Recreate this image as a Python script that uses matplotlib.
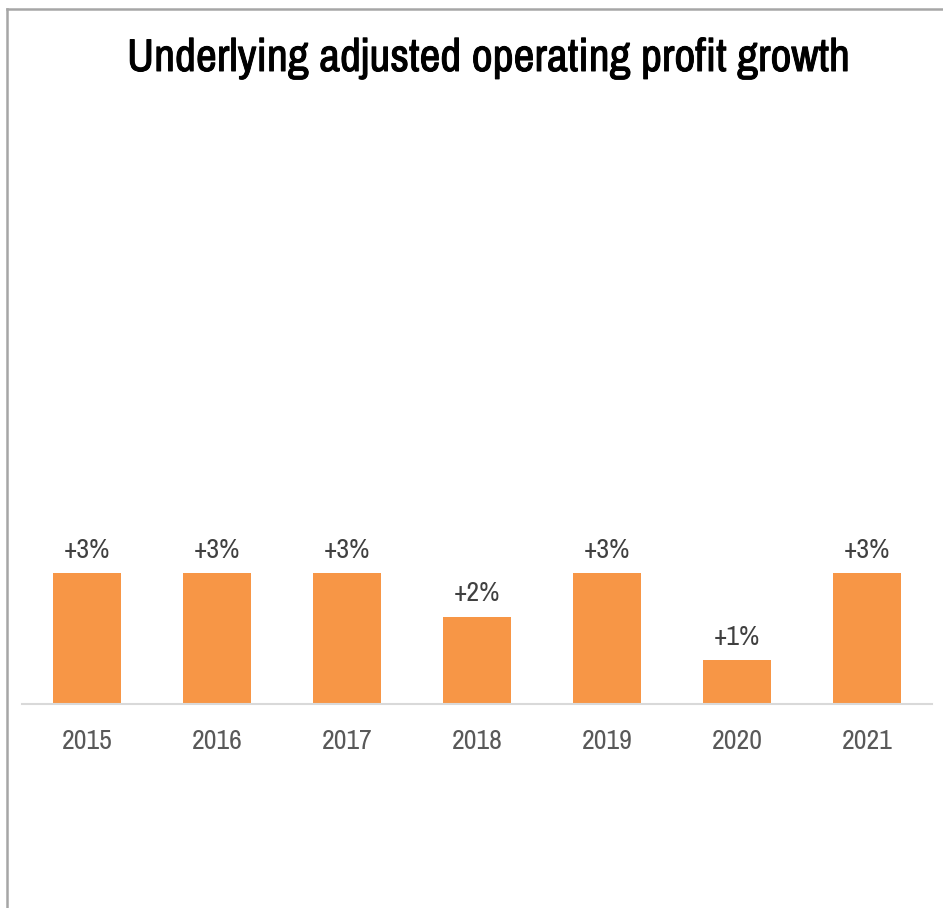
import matplotlib
matplotlib.use("Agg")
import matplotlib.pyplot as plt
import matplotlib.patheffects as pe
from matplotlib.lines import Line2D

years = ["2015", "2016", "2017", "2018", "2019", "2020", "2021"]
growth = [3, 3, 3, 2, 3, 1, 3]
labels = ["+3%", "+3%", "+3%", "+2%", "+3%", "+1%", "+3%"]
title = "Underlying adjusted operating profit growth"

fam = ["Archivo Narrow", "DejaVu Sans"]

fig = plt.figure(figsize=(9.43, 9.08), dpi=100)
ax = fig.add_axes([22 / 943, 1 - 704 / 908, 910 / 943, 594 / 908])

x = range(len(years))
ax.bar(x, growth, width=0.52, color="#F79646", zorder=2)
ax.set_xlim(-0.5, len(years) - 0.5)
ax.set_ylim(0, 13.6)

for xi, v, lab in zip(x, growth, labels):
    ax.annotate(lab, (xi, v), xytext=(0, 7.5), textcoords="offset points",
                ha="center", va="bottom", fontsize=20, color="#404040",
                family=fam)

ax.set_xticks(list(x))
ax.set_xticklabels(years, fontsize=20, color="#595959", family=fam)
ax.tick_params(axis="x", length=0, pad=18)
ax.set_yticks([])
for s in ("top", "right", "left"):
    ax.spines[s].set_visible(False)
ax.spines["bottom"].set_color("#D9D9D9")
ax.spines["bottom"].set_linewidth(1.5)

# heavier title: thin outline in the text colour thickens the strokes
fig.text(489 / 943, 1 - 71 / 908, title, ha="center", va="baseline",
         fontsize=33, color="black", family=fam,
         path_effects=[pe.withStroke(linewidth=0.7, foreground="black")])

# outer frame on the top and left edges
fig.add_artist(Line2D([7 / 943, 1], [1 - 9 / 908, 1 - 9 / 908], color="#A6A6A6", lw=1.8))
fig.add_artist(Line2D([7 / 943, 7 / 943], [0, 1 - 9 / 908], color="#A6A6A6", lw=1.8))

fig.savefig("out.png", dpi=100)
